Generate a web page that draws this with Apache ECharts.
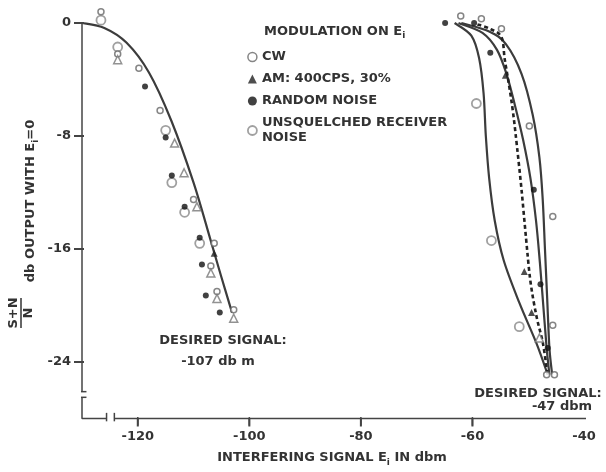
<!DOCTYPE html>
<html>
<head>
<meta charset="utf-8">
<script src="https://cdn.jsdelivr.net/npm/echarts@6/dist/echarts.min.js"></script>
<style>
  html, body { margin: 0; padding: 0; background: #fff; }
  #chart { width: 606px; height: 472px; }
</style>
</head>
<body>
<div id="chart"></div>
<script>
// tick labels
const xTicks = [-120, -100, -80, -60]
const xLabels = [-120, -100, -80, -60, -40]
const yTicks = [0, -8, -16, -24]

// desired signal -107 dbm (left group)
const curveLeft = [[-130, 0], [-126, -0.35], [-122, -1.4], [-118, -3.5], [-114, -6.9], [-110, -11.3], [-107, -15.3], [-105, -18.0], [-103.1, -20.5]]
const cwLeft = [[-126.6, 0.8], [-123.6, -2.2], [-119.8, -3.2], [-116.0, -6.2], [-110.0, -12.5], [-106.3, -15.6], [-106.9, -17.2], [-105.8, -19.0], [-102.8, -20.3]]
const amOpen = [[-123.6, -2.6], [-113.4, -8.5], [-111.7, -10.6], [-109.4, -13.0], [-106.9, -17.7], [-105.8, -19.5], [-102.8, -20.9], [-48.0, -22.3]]
const noiseLeft = [[-118.7, -4.5], [-115.0, -8.1], [-113.9, -10.8], [-111.6, -13.0], [-108.9, -15.2], [-108.5, -17.1], [-107.8, -19.3], [-105.3, -20.5]]
const unsqLeft = [[-126.6, 0.2], [-123.6, -1.7], [-115.0, -7.6], [-113.9, -11.3], [-111.6, -13.4], [-108.9, -15.6]]

// desired signal -47 dbm (right group)
const curveA = [[-63.2, 0], [-60.2, -0.9], [-58.8, -2.5], [-58.0, -5.0], [-57.6, -8.0], [-57.0, -11.0], [-56.0, -14.0], [-54.4, -16.8], [-51.6, -19.8], [-48.5, -22.7], [-46.5, -24.9]]
const curveB = [[-62.5, 0], [-58.2, -0.7], [-55.6, -1.9], [-53.9, -3.6], [-52.4, -5.8], [-50.9, -8.3], [-49.6, -11.0], [-48.6, -14.0], [-47.9, -17.0], [-47.3, -20.0], [-46.7, -23.0], [-46.2, -24.9]]
const curveC = [[-62.0, 0], [-57.0, -0.6], [-54.0, -1.5], [-51.2, -3.6], [-49.2, -6.5], [-48.0, -9.5], [-47.4, -12.5], [-47.0, -16.0], [-46.6, -19.5], [-46.2, -23.0], [-45.7, -24.9]]
const curveDash = [[-59.1, -0.1], [-56.9, -0.4], [-54.8, -1.0], [-54.2, -2.6], [-53.4, -4.5], [-52.7, -6.4], [-52.0, -8.8], [-51.2, -11.8], [-50.4, -15.2], [-49.6, -18.3], [-48.5, -20.8], [-47.4, -22.6], [-46.6, -24.7]]
const cwRight = [[-62.1, 0.5], [-58.4, 0.3], [-54.8, -0.4], [-49.8, -7.3], [-45.6, -13.7], [-45.6, -21.4], [-46.7, -24.9], [-45.3, -24.9]]
const amFilled = [[-106.3, -16.3], [-54.1, -3.7], [-50.7, -17.6], [-49.4, -20.5]]
const noiseRight = [[-64.9, 0], [-59.7, 0], [-56.8, -2.1], [-49.0, -11.8], [-47.8, -18.5], [-46.5, -23.0]]
const unsqRight = [[-59.3, -5.7], [-56.6, -15.4], [-51.6, -21.5]]

const FONT = 'DejaVu Sans'
const INK = '#333'
const AXIS = '#444'
const txt = { fontFamily: FONT, fontWeight: 'bold', fontSize: 13, fill: INK }
const rich = {
  a: { fontFamily: FONT, fontWeight: 'bold', fontSize: 13, fill: INK },
  s: { fontFamily: FONT, fontWeight: 'bold', fontSize: 9, fill: INK, padding: [9, 0, 0, 0] }
}

const chart = echarts.init(document.getElementById('chart'))

// smooth curve through the read points, placed with api.coord
const curve = (data, dashed) => ({
  type: 'custom', coordinateSystem: 'cartesian2d', silent: true, clip: false, z: 2,
  data: [0],
  renderItem: (params, api) => {
    const p = data.map((d) => api.coord(d))
    let path = 'M' + p[0][0] + ' ' + p[0][1]
    for (let i = 0; i < p.length - 1; i++) {
      const p0 = p[i - 1] || p[i]
      const p1 = p[i]
      const p2 = p[i + 1]
      const p3 = p[i + 2] || p2
      const c1 = [p1[0] + (p2[0] - p0[0]) / 6, p1[1] + (p2[1] - p0[1]) / 6]
      const c2 = [p2[0] - (p3[0] - p1[0]) / 6, p2[1] - (p3[1] - p1[1]) / 6]
      path += ' C' + c1[0] + ' ' + c1[1] + ' ' + c2[0] + ' ' + c2[1] + ' ' + p2[0] + ' ' + p2[1]
    }
    return {
      type: 'path', shape: { pathData: path },
      style: { fill: 'none', stroke: dashed ? '#222' : '#3c3c3c', lineWidth: dashed ? 2.6 : 2.2, lineDash: dashed ? [4, 3] : null }
    }
  }
})
const axisPiece = (data) => ({
  type: 'line', data: data, symbol: 'none', silent: true, clip: false, z: 1,
  lineStyle: { color: AXIS, width: 1.5 }
})

const CW = 'CW'
const AM = 'AM: 400CPS, 30%'
const RN = 'RANDOM NOISE'
const UN = 'UNSQUELCHED RECEIVER\nNOISE'

const cwStyle = { color: '#fff', borderColor: '#666', borderWidth: 1.5 }
const unStyle = { color: '#fff', borderColor: '#888', borderWidth: 1.8 }

const texts = [
  { type: 'text', left: 264, top: 25, style: Object.assign({}, txt, { text: '{a|MODULATION ON E}{s|i}', rich: rich }) },
  { type: 'text', x: 223, y: 341, style: Object.assign({}, txt, { text: 'DESIRED SIGNAL:', align: 'center', verticalAlign: 'middle' }) },
  { type: 'text', x: 218, y: 362, style: Object.assign({}, txt, { text: '-107 db m', align: 'center', verticalAlign: 'middle' }) },
  { type: 'text', x: 538, y: 394, style: Object.assign({}, txt, { text: 'DESIRED SIGNAL:', align: 'center', verticalAlign: 'middle' }) },
  { type: 'text', x: 562, y: 407, style: Object.assign({}, txt, { text: '-47 dbm', align: 'center', verticalAlign: 'middle' }) },
  { type: 'text', x: 332, y: 458, style: Object.assign({}, txt, {
      text: '{a|INTERFERING SIGNAL E}{s|i}{a| IN dbm}', align: 'center', verticalAlign: 'middle', rich: rich }) },
  // y axis title, rotated
  { type: 'group', x: 31, y: 201, rotation: Math.PI / 2, children: [
    { type: 'text', x: 0, y: 0, style: Object.assign({}, txt, {
        text: '{a|db OUTPUT WITH E}{s|i}{a|=0}', align: 'center', verticalAlign: 'middle', rich: rich }) }
  ] },
  { type: 'group', x: 21, y: 313, rotation: Math.PI / 2, children: [
    { type: 'text', x: 0, y: -7, style: Object.assign({}, txt, { text: 'S+N', align: 'center', verticalAlign: 'middle' }) },
    { type: 'line', shape: { x1: -15, y1: 0, x2: 15, y2: 0 }, style: { stroke: INK, lineWidth: 1.5 } },
    { type: 'text', x: 0, y: 8, style: Object.assign({}, txt, { text: 'N', align: 'center', verticalAlign: 'middle' }) }
  ] }
]

chart.setOption({
  animation: false,
  grid: { left: 82, right: 22, top: 23, bottom: 53.5 },
  xAxis: {
    type: 'value', min: -130, max: -40,
    // the axis line is broken, drawn below as series
    axisLine: { show: false, onZero: false },
    splitLine: { show: false },
    axisTick: { show: false },
    axisLabel: { customValues: xLabels, margin: 12, color: INK, fontFamily: FONT, fontWeight: 'bold', fontSize: 13 }
  },
  yAxis: {
    type: 'value', min: -28, max: 0,
    axisLine: { show: false, onZero: false },
    splitLine: { show: false },
    axisTick: { show: false },
    axisLabel: { customValues: yTicks, margin: 11, color: INK, fontFamily: FONT, fontWeight: 'bold', fontSize: 13 }
  },
  legend: {
    orient: 'vertical', left: 242, top: 44.5, itemGap: 7, itemWidth: 9, itemHeight: 9,
    textStyle: { color: INK, fontFamily: FONT, fontWeight: 'bold', fontSize: 13, lineHeight: 15 },
    data: [
      { name: CW, icon: 'circle', itemStyle: cwStyle },
      { name: AM, icon: 'triangle', itemStyle: { color: '#222', borderWidth: 0 } },
      { name: RN, icon: 'circle', itemStyle: { color: '#111', borderWidth: 0 } },
      { name: UN, icon: 'circle', itemStyle: unStyle }
    ]
  },
  graphic: texts,
  series: [
    // broken axis lines, with tick marks crossing them
    axisPiece([[-130, 0], [-130, -26.1]]),
    axisPiece([[-130.8, -26.1], [-129.2, -26.1]]),
    axisPiece([[-130.8, -26.5], [-129.2, -26.5]]),
    axisPiece([[-130, -26.5], [-130, -28], [-125.6, -28]]),
    axisPiece([[-125.6, -27.6], [-125.6, -28.2]]),
    axisPiece([[-124.2, -27.6], [-124.2, -28.2]]),
    axisPiece([[-124.2, -28], [-39.3, -28]]),
    ...xTicks.map((v) => axisPiece([[v, -27.9], [v, -28.5]])),
    ...yTicks.map((v) => axisPiece([[-131.3, v], [-129.7, v]])),
    // curves
    curve(curveLeft),
    curve(curveA),
    curve(curveB),
    curve(curveC),
    curve(curveDash, true),
    // measured points
    { name: CW, type: 'scatter', data: cwLeft.concat(cwRight), symbol: 'circle', symbolSize: 6, itemStyle: cwStyle, clip: false, z: 4 },
    { name: AM, type: 'scatter', data: amOpen, symbol: 'triangle', symbolSize: 8, itemStyle: { color: '#fff', borderColor: '#777', borderWidth: 1.5 }, clip: false, z: 4 },
    { name: AM, type: 'scatter', data: amFilled, symbol: 'triangle', symbolSize: 7, itemStyle: { color: '#222' }, clip: false, z: 4 },
    { name: RN, type: 'scatter', data: noiseLeft.concat(noiseRight), symbol: 'circle', symbolSize: 6, itemStyle: { color: '#111' }, clip: false, z: 5 },
    { name: UN, type: 'scatter', data: unsqLeft.concat(unsqRight), symbol: 'circle', symbolSize: 9, itemStyle: unStyle, clip: false, z: 3 }
  ]
})

// extra tick marks as graphics, placed through the axis scales
const tickMarks = xTicks.map((v) => {
  const p = chart.convertToPixel({ seriesIndex: 0 }, [v, -28])
  return { type: 'line', z: 100, shape: { x1: p[0], y1: p[1], x2: p[0], y2: p[1] + 8 }, style: { stroke: AXIS, lineWidth: 2 } }
}).concat(yTicks.map((v) => {
  const p = chart.convertToPixel({ seriesIndex: 0 }, [-130, v])
  return { type: 'line', z: 100, shape: { x1: p[0] - 8, y1: p[1], x2: p[0] + 2, y2: p[1] }, style: { stroke: AXIS, lineWidth: 2 } }
}))
chart.setOption({ graphic: texts.concat(tickMarks) })
</script>
</body>
</html>
